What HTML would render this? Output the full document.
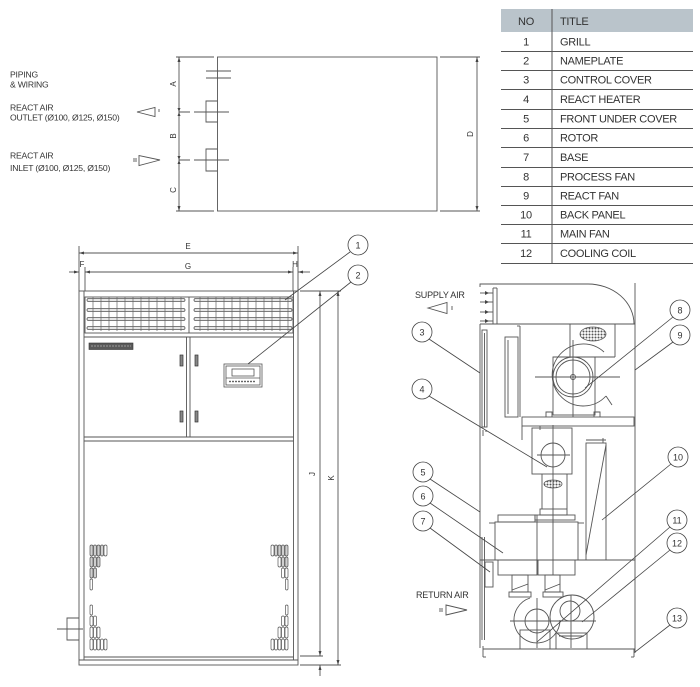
<!DOCTYPE html>
<html><head><meta charset="utf-8"><style>
html,body{margin:0;padding:0;background:#fff;}
svg{display:block;}
text{font-family:"Liberation Sans",sans-serif;fill:#333;}
</style></head><body>
<svg width="700" height="687" viewBox="0 0 700 687" xmlns="http://www.w3.org/2000/svg">
<defs>
<pattern id="dots" width="3" height="3" patternUnits="userSpaceOnUse"><circle cx="1.5" cy="1.5" r="1" fill="#555"/></pattern>
</defs>

<!-- ============ TABLE ============ -->
<rect x="501" y="9" width="192" height="23" fill="#bac4cb"/>
<g stroke="#555" stroke-width="1">
<line x1="552" y1="9" x2="552" y2="264"/>
<line x1="501" y1="51.5" x2="693" y2="51.5"/>
<line x1="501" y1="70.5" x2="693" y2="70.5"/>
<line x1="501" y1="89.5" x2="693" y2="89.5"/>
<line x1="501" y1="109.5" x2="693" y2="109.5"/>
<line x1="501" y1="128.5" x2="693" y2="128.5"/>
<line x1="501" y1="147.5" x2="693" y2="147.5"/>
<line x1="501" y1="167.5" x2="693" y2="167.5"/>
<line x1="501" y1="186.5" x2="693" y2="186.5"/>
<line x1="501" y1="205.5" x2="693" y2="205.5"/>
<line x1="501" y1="224.5" x2="693" y2="224.5"/>
<line x1="501" y1="243.5" x2="693" y2="243.5"/>
<line x1="501" y1="263.5" x2="693" y2="263.5"/>
</g>
<g font-size="11" letter-spacing="-0.3" fill="#222">
<text x="526" y="25" text-anchor="middle">NO</text>
<text x="560" y="25">TITLE</text>
<g text-anchor="middle">
<text x="526" y="45.5">1</text><text x="526" y="64.5">2</text><text x="526" y="83.5">3</text>
<text x="526" y="103">4</text><text x="526" y="122.5">5</text><text x="526" y="141.5">6</text>
<text x="526" y="161">7</text><text x="526" y="180.5">8</text><text x="526" y="199.5">9</text>
<text x="526" y="218.5">10</text><text x="526" y="237.5">11</text><text x="526" y="257">12</text>
</g>
<text x="560" y="45.5">GRILL</text>
<text x="560" y="64.5">NAMEPLATE</text>
<text x="560" y="83.5">CONTROL COVER</text>
<text x="560" y="103">REACT HEATER</text>
<text x="560" y="122.5">FRONT UNDER COVER</text>
<text x="560" y="141.5">ROTOR</text>
<text x="560" y="161">BASE</text>
<text x="560" y="180.5">PROCESS FAN</text>
<text x="560" y="199.5">REACT FAN</text>
<text x="560" y="218.5">BACK PANEL</text>
<text x="560" y="237.5">MAIN FAN</text>
<text x="560" y="257">COOLING COIL</text>
</g>

<!-- ============ TOP VIEW ============ -->
<g font-size="8.6" fill="#444" letter-spacing="-0.2">
<text x="10" y="77.5">PIPING</text>
<text x="10" y="87.5">&amp; WIRING</text>
<text x="10" y="110.5">REACT AIR</text>
<text x="10" y="120.5">OUTLET (Ø100, Ø125, Ø150)</text>
<text x="10" y="158.5">REACT AIR</text>
<text x="10" y="171">INLET (Ø100, Ø125, Ø150)</text>
</g>
<g stroke="#555" stroke-width="0.9" fill="none">
<polygon points="137,112 155,107.5 155,116.5"/>
<line x1="159" y1="109" x2="159" y2="112"/>
<polygon points="160,160 139,155.5 139,165.5"/>
<line x1="134" y1="158" x2="134" y2="162"/><line x1="136" y1="158" x2="136" y2="162"/>

<rect x="217.5" y="57" width="219.5" height="154"/>
<line x1="176" y1="57" x2="214" y2="57"/>
<line x1="176" y1="211" x2="214" y2="211"/>
<line x1="179" y1="57" x2="179" y2="211"/>
<line x1="440" y1="57" x2="480" y2="57"/>
<line x1="440" y1="211" x2="480" y2="211"/>
<line x1="477" y1="57" x2="477" y2="211"/>
<!-- piping -->
<line x1="206" y1="71" x2="231" y2="71"/>
<line x1="206" y1="78" x2="231" y2="78"/>
<!-- outlet -->
<polyline points="217.5,101 206,101 206,122 217.5,122"/>
<line x1="179" y1="112" x2="229" y2="112" stroke-dasharray="11,4,40"/>
<polyline points="217.5,149 206,149 206,171 217.5,171"/>
<line x1="179" y1="160" x2="229" y2="160" stroke-dasharray="11,4,40"/>
</g>
<g fill="#444">
<polygon points="179,57 177.5,62 180.5,62"/>
<polygon points="179,211 177.5,206 180.5,206"/>
<polygon points="179,112 177.5,108 180.5,108"/><polygon points="179,112 177.5,116 180.5,116"/>
<polygon points="179,160 177.5,156 180.5,156"/><polygon points="179,160 177.5,164 180.5,164"/>
<polygon points="477,57 475.5,62 478.5,62"/>
<polygon points="477,211 475.5,206 478.5,206"/>
</g>
<g font-size="8" fill="#555">
<text transform="translate(176,84) rotate(-90)" text-anchor="middle">A</text>
<text transform="translate(176,136) rotate(-90)" text-anchor="middle">B</text>
<text transform="translate(176,190) rotate(-90)" text-anchor="middle">C</text>
<text transform="translate(473,134) rotate(-90)" text-anchor="middle">D</text>
</g>

<!-- ============ FRONT VIEW ============ -->
<g stroke="#555" stroke-width="0.9" fill="none">
<!-- dims -->
<line x1="79" y1="246" x2="79" y2="291"/>
<line x1="298" y1="246" x2="298" y2="291"/>
<line x1="85" y1="267" x2="85" y2="291"/>
<line x1="293" y1="267" x2="293" y2="291"/>
<line x1="79" y1="253" x2="298" y2="253"/>
<line x1="85" y1="272" x2="293" y2="272"/>
<line x1="69" y1="272" x2="79" y2="272"/>
<line x1="298" y1="272" x2="310" y2="272"/>
<!-- J K -->
<line x1="300" y1="291" x2="341" y2="291"/>
<line x1="300" y1="656" x2="323" y2="656"/>
<line x1="300" y1="665" x2="341" y2="665"/>
<line x1="320" y1="291" x2="320" y2="656"/>
<line x1="338" y1="291" x2="338" y2="665"/>
<line x1="320" y1="665" x2="320" y2="676"/>

<!-- frame -->
<rect x="79" y="291" width="219" height="374"/>
<line x1="84" y1="291" x2="84" y2="660"/>
<line x1="293.5" y1="291" x2="293.5" y2="660"/>
<!-- grille -->
<rect x="85" y="297" width="208" height="36"/>
<line x1="189" y1="297" x2="189" y2="333"/>
<line x1="84" y1="337" x2="293.5" y2="337"/>
<!-- doors -->
<line x1="186.5" y1="337" x2="186.5" y2="437"/>
<line x1="190" y1="337" x2="190" y2="437"/>
<line x1="84" y1="437" x2="293.5" y2="437"/>
<line x1="84" y1="441" x2="293.5" y2="441"/>
<line x1="84" y1="657" x2="293.5" y2="657"/>
<line x1="79" y1="660" x2="298" y2="660"/>
<!-- piping box -->
<polyline points="79,618 67,618 67,640 79,640"/>
<line x1="57" y1="629" x2="83" y2="629"/>
</g>
<g fill="#444">
<polygon points="79,253 84,251.5 84,254.5"/><polygon points="298,253 293,251.5 293,254.5"/>
<polygon points="85,272 90,270.5 90,273.5"/><polygon points="293,272 288,270.5 288,273.5"/>
<polygon points="79,272 74,270.5 74,273.5"/><polygon points="298,272 303,270.5 303,273.5"/>
<polygon points="320,291 318.5,296 321.5,296"/><polygon points="320,656 318.5,651 321.5,651"/>
<polygon points="338,291 336.5,296 339.5,296"/><polygon points="338,665 336.5,660 339.5,660"/>
<polygon points="320,665 318.5,670 321.5,670"/>
</g>
<g font-size="8" fill="#555" text-anchor="middle">
<text x="188" y="249">E</text>
<text x="188" y="269">G</text>
<text x="82" y="267">F</text>
<text x="295" y="267">H</text>
<text transform="translate(315,474) rotate(-90)">J</text>
<text transform="translate(334,478) rotate(-90)">K</text>
</g>

<!-- grille bars -->
<g stroke="#555" stroke-width="0.8" fill="#e6e6e6">
<rect x="87" y="298.5" width="98" height="3" rx="1.5"/>
<rect x="87" y="308.5" width="98" height="3" rx="1.5"/>
<rect x="87" y="317.5" width="98" height="3" rx="1.5"/>
<rect x="87" y="326.5" width="98" height="3" rx="1.5"/>
<rect x="194" y="298.5" width="98" height="3" rx="1.5"/>
<rect x="194" y="308.5" width="98" height="3" rx="1.5"/>
<rect x="194" y="317.5" width="98" height="3" rx="1.5"/>
<rect x="194" y="326.5" width="98" height="3" rx="1.5"/>
</g>
<g stroke="#666" stroke-width="0.7">
<line x1="93" y1="297" x2="93" y2="331"/><line x1="101" y1="297" x2="101" y2="331"/>
<line x1="109" y1="297" x2="109" y2="331"/><line x1="117" y1="297" x2="117" y2="331"/>
<line x1="125" y1="297" x2="125" y2="331"/><line x1="133" y1="297" x2="133" y2="331"/>
<line x1="141" y1="297" x2="141" y2="331"/><line x1="149" y1="297" x2="149" y2="331"/>
<line x1="157" y1="297" x2="157" y2="331"/><line x1="165" y1="297" x2="165" y2="331"/>
<line x1="173" y1="297" x2="173" y2="331"/><line x1="181" y1="297" x2="181" y2="331"/>
<line x1="200" y1="297" x2="200" y2="331"/><line x1="208" y1="297" x2="208" y2="331"/>
<line x1="216" y1="297" x2="216" y2="331"/><line x1="224" y1="297" x2="224" y2="331"/>
<line x1="232" y1="297" x2="232" y2="331"/><line x1="240" y1="297" x2="240" y2="331"/>
<line x1="248" y1="297" x2="248" y2="331"/><line x1="256" y1="297" x2="256" y2="331"/>
<line x1="264" y1="297" x2="264" y2="331"/><line x1="272" y1="297" x2="272" y2="331"/>
<line x1="280" y1="297" x2="280" y2="331"/><line x1="288" y1="297" x2="288" y2="331"/>
</g>

<!-- nameplate -->
<rect x="89" y="343" width="44" height="6.5" fill="#5a5a5a" stroke="#333" stroke-width="0.6"/>
<g stroke="#ddd" stroke-width="0.6">
<line x1="91" y1="346" x2="131" y2="346" stroke-dasharray="2,1"/>
</g>
<!-- handles -->
<g fill="#888" stroke="#333" stroke-width="0.7">
<rect x="180" y="355" width="3" height="11"/>
<rect x="195" y="355" width="3" height="11"/>
<rect x="180" y="411" width="3" height="11"/>
<rect x="195" y="411" width="3" height="11"/>
</g>
<!-- controller -->
<g stroke="#555" stroke-width="0.8" fill="none">
<rect x="224" y="364" width="38" height="23"/>
<rect x="226" y="366" width="34" height="19"/>
<rect x="232" y="369" width="22" height="7"/>
<line x1="226" y1="378" x2="260" y2="378"/>
</g>
<g fill="#444">
<circle cx="230" cy="381.5" r="0.9"/><circle cx="233" cy="381.5" r="0.9"/><circle cx="236" cy="381.5" r="0.9"/>
<circle cx="239" cy="381.5" r="0.9"/><circle cx="242" cy="381.5" r="0.9"/><circle cx="245" cy="381.5" r="0.9"/>
<circle cx="248" cy="381.5" r="0.9"/><circle cx="251" cy="381.5" r="0.9"/><circle cx="254" cy="381.5" r="0.9"/>
</g>

<!-- vents -->
<g stroke="#555" stroke-width="0.7" fill="#cfcfcf">
<!-- left top -->
<rect x="90" y="545" width="3" height="11" rx="1.5"/><rect x="93.5" y="545" width="3" height="11" rx="1.5"/>
<rect x="97" y="545" width="3" height="11" rx="1.5"/><rect x="100.5" y="545" width="3" height="11" rx="1.5"/>
<rect x="104" y="545" width="3" height="11" rx="1.5" fill="#fff"/>
<rect x="90" y="557" width="3" height="10" rx="1.5"/><rect x="93.5" y="557" width="3" height="10" rx="1.5"/>
<rect x="97" y="557" width="3" height="10" rx="1.5"/>
<rect x="90" y="568" width="3" height="10" rx="1.5"/><rect x="93.5" y="568" width="3" height="10" rx="1.5"/>
<rect x="90" y="579" width="2.5" height="11" rx="1.2" fill="#fff"/>
<!-- left bottom -->
<g fill="#fff">
<rect x="90" y="605" width="2.5" height="10" rx="1.2"/>
<rect x="90" y="616" width="3" height="10" rx="1.5"/><rect x="93.5" y="616" width="3" height="10" rx="1.5"/>
<rect x="90" y="627" width="3" height="11" rx="1.5"/><rect x="93.5" y="627" width="3" height="11" rx="1.5"/><rect x="97" y="627" width="3" height="11" rx="1.5"/>
<rect x="90" y="639" width="3" height="11" rx="1.5"/><rect x="93.5" y="639" width="3" height="11" rx="1.5"/><rect x="97" y="639" width="3" height="11" rx="1.5"/>
<rect x="100.5" y="639" width="3" height="11" rx="1.5"/><rect x="104" y="639" width="3" height="11" rx="1.5"/>
</g>
<!-- right top -->
<rect x="285" y="545" width="3" height="11" rx="1.5"/><rect x="281.5" y="545" width="3" height="11" rx="1.5"/>
<rect x="278" y="545" width="3" height="11" rx="1.5"/><rect x="274.5" y="545" width="3" height="11" rx="1.5"/>
<rect x="271" y="545" width="3" height="11" rx="1.5" fill="#fff"/>
<rect x="285" y="557" width="3" height="10" rx="1.5"/><rect x="281.5" y="557" width="3" height="10" rx="1.5"/>
<rect x="278" y="557" width="3" height="10" rx="1.5" fill="#fff"/>
<rect x="285" y="568" width="3" height="10" rx="1.5" fill="#fff"/><rect x="281.5" y="568" width="3" height="10" rx="1.5" fill="#fff"/>
<rect x="285.5" y="579" width="2.5" height="11" rx="1.2" fill="#fff"/>
<!-- right bottom -->
<g fill="#fff">
<rect x="285.5" y="605" width="2.5" height="10" rx="1.2"/>
<rect x="285" y="616" width="3" height="10" rx="1.5"/><rect x="281.5" y="616" width="3" height="10" rx="1.5"/>
<rect x="285" y="627" width="3" height="11" rx="1.5"/><rect x="281.5" y="627" width="3" height="11" rx="1.5"/><rect x="278" y="627" width="3" height="11" rx="1.5"/>
<rect x="285" y="639" width="3" height="11" rx="1.5"/><rect x="281.5" y="639" width="3" height="11" rx="1.5"/><rect x="278" y="639" width="3" height="11" rx="1.5"/>
<rect x="274.5" y="639" width="3" height="11" rx="1.5"/><rect x="271" y="639" width="3" height="11" rx="1.5"/>
</g>
</g>

<!-- callouts 1,2 -->
<g stroke="#444" stroke-width="0.8" fill="none">
<circle cx="358" cy="245" r="10"/>
<circle cx="358" cy="275" r="10"/>
<line x1="350" y1="252" x2="285" y2="300"/>
<line x1="351" y1="282" x2="248" y2="364"/>
</g>
<g font-size="9" text-anchor="middle" fill="#333">
<text x="358" y="248.5">1</text>
<text x="358" y="278.5">2</text>
</g>

<!-- ============ SIDE VIEW ============ -->
<g font-size="9" fill="#444" letter-spacing="-0.2">
<text x="415" y="298">SUPPLY AIR</text>
<text x="416" y="598">RETURN AIR</text>
</g>
<g stroke="#555" stroke-width="0.9" fill="none">
<polygon points="428,308 447,302.5 447,313.5"/>
<line x1="452" y1="306" x2="452" y2="310"/>
<polygon points="467,610 446,605 446,615"/>
<line x1="440" y1="608" x2="440" y2="612"/><line x1="442" y1="608" x2="442" y2="612"/>

<!-- housing -->
<line x1="484" y1="284" x2="588" y2="284"/>
<path d="M588,284 A46,40 0 0 1 634,324"/>
<line x1="635" y1="283" x2="635" y2="653"/>
<polyline points="480,287 480,284 484,284"/>
<line x1="493" y1="288" x2="493" y2="324"/>
<line x1="497" y1="288" x2="497" y2="324"/>
<line x1="493" y1="288" x2="497" y2="288"/>
<line x1="480" y1="293" x2="493" y2="293"/>
<line x1="480" y1="302" x2="493" y2="302"/>
<line x1="480" y1="312" x2="493" y2="312"/>
<line x1="480" y1="321" x2="493" y2="321"/>
<line x1="480" y1="324" x2="635" y2="324"/>
<line x1="480" y1="324" x2="480" y2="648"/>
<!-- control cover -->
<rect x="482" y="330" width="5" height="97"/>
<line x1="484.5" y1="333" x2="484.5" y2="427"/>
<path d="M483,430 L483,436 M486,430 L486,432"/>

<!-- process fan -->
<line x1="520" y1="326" x2="520" y2="417"/>
<line x1="517" y1="326" x2="520" y2="326"/>
<rect x="505" y="337" width="13" height="80"/>
<line x1="508" y1="340" x2="508" y2="414"/>
<rect x="522" y="417" width="112" height="9"/>
<line x1="570" y1="324" x2="570" y2="357"/>
<line x1="615" y1="324" x2="615" y2="357"/>
<line x1="553" y1="357" x2="615" y2="357"/>
<rect x="553" y="357" width="42" height="58"/>
<path d="M604,352 A31,31 0 1 0 606,396"/>
<line x1="606" y1="396" x2="612" y2="405"/>
<circle cx="573" cy="377" r="20"/>
<circle cx="573" cy="377" r="17"/>
<circle cx="573" cy="377" r="2.5"/>
<line x1="535" y1="377" x2="620" y2="377"/>
<line x1="573" y1="340" x2="573" y2="417"/>
<path d="M546,417 L546,412 L552,412 L552,417 M594,417 L594,412 L600,412 L600,417"/>
<!-- under base -->
<line x1="522" y1="426" x2="522" y2="440"/>
<line x1="540" y1="426" x2="540" y2="430"/>

<!-- react heater -->
<rect x="532" y="428" width="40" height="46"/>
<circle cx="553" cy="455" r="12"/>
<line x1="553" y1="425" x2="553" y2="575"/>
<line x1="537" y1="455" x2="570" y2="455"/>
<line x1="542" y1="474" x2="542" y2="509"/>
<line x1="567" y1="474" x2="567" y2="509"/>
<rect x="540" y="509" width="27" height="6"/>
<rect x="535" y="515" width="40" height="5"/>

<!-- rotor -->
<rect x="498" y="515" width="37" height="7"/>
<rect x="495" y="522" width="83" height="38"/>
<line x1="489" y1="523" x2="495" y2="523"/>
<line x1="578" y1="523" x2="584" y2="523"/>
<line x1="537" y1="515" x2="537" y2="575"/>
<line x1="480" y1="560" x2="635" y2="560"/>
<rect x="498" y="560" width="39" height="15"/>
<rect x="538" y="560" width="37" height="15"/>
<rect x="512" y="575" width="16" height="17"/>
<rect x="509" y="592" width="22" height="5"/>
<line x1="512" y1="590" x2="528" y2="584"/>
<rect x="545" y="575" width="15" height="17"/>
<rect x="543" y="592" width="20" height="5"/>
<line x1="545" y1="590" x2="560" y2="584"/>

<!-- main fans -->
<path d="M530,598 A23,23 0 1 0 560,620"/>
<circle cx="537" cy="621" r="12"/>
<circle cx="572" cy="617" r="22"/>
<circle cx="570" cy="611" r="10"/>
<line x1="510" y1="621" x2="596" y2="621"/>
<line x1="537" y1="598" x2="537" y2="648"/>
<line x1="571" y1="595" x2="571" y2="648"/>
<rect x="520" y="630" width="30" height="19"/>
<rect x="556" y="633" width="31" height="16"/>
<line x1="559" y1="636" x2="584" y2="636"/>

<!-- base -->
<line x1="483" y1="649" x2="635" y2="649"/>
<line x1="483" y1="646" x2="483" y2="657"/>
<line x1="634" y1="649" x2="634" y2="657"/>
<line x1="483" y1="657" x2="486" y2="657"/>
<line x1="631" y1="657" x2="634" y2="657"/>

<!-- back panel -->
<rect x="586" y="443" width="20" height="117"/>
<line x1="606" y1="445" x2="586" y2="555"/>
<line x1="586" y1="440" x2="606" y2="440"/>
<line x1="603" y1="438" x2="603" y2="443"/>

<!-- front under cover / base -->
<line x1="482" y1="537" x2="482" y2="640"/>
<line x1="484.5" y1="537" x2="484.5" y2="640"/>
<rect x="485" y="562" width="8" height="25"/>
</g>
<!-- hatched ovals -->
<ellipse cx="593" cy="334" rx="13" ry="7" fill="url(#dots)" stroke="#555" stroke-width="0.8"/>
<ellipse cx="553" cy="484" rx="9" ry="4" fill="url(#dots)" stroke="#555" stroke-width="0.8"/>
<!-- supply arrow heads -->
<g fill="#444">
<polygon points="489,293 485,291 485,295"/><polygon points="489,302 485,300 485,304"/>
<polygon points="489,312 485,310 485,314"/><polygon points="489,321 485,319 485,323"/>
</g>

<!-- side callouts -->
<g stroke="#444" stroke-width="0.8" fill="none">
<circle cx="422" cy="332" r="10"/>
<circle cx="422" cy="389" r="10"/>
<circle cx="680" cy="310" r="10"/>
<circle cx="680" cy="335" r="10"/>
<circle cx="678" cy="457" r="10"/>
<circle cx="423" cy="472" r="10"/>
<circle cx="423" cy="496" r="10"/>
<circle cx="423" cy="521" r="10"/>
<circle cx="677" cy="520" r="10"/>
<circle cx="677" cy="543" r="10"/>
<circle cx="677" cy="618" r="10"/>
<line x1="429" y1="339" x2="480" y2="373"/>
<line x1="429" y1="396" x2="547" y2="467"/>
<line x1="673" y1="317" x2="585" y2="388"/>
<line x1="673" y1="342" x2="635" y2="370"/>
<line x1="671" y1="464" x2="602" y2="520"/>
<line x1="430" y1="479" x2="480" y2="512"/>
<line x1="430" y1="503" x2="503" y2="553"/>
<line x1="430" y1="528" x2="490" y2="572"/>
<line x1="670" y1="527" x2="537" y2="642"/>
<line x1="670" y1="550" x2="582" y2="622"/>
<line x1="670" y1="625" x2="635" y2="652"/>
</g>
<g font-size="9" text-anchor="middle" fill="#333">
<text x="422" y="335.5">3</text>
<text x="422" y="392.5">4</text>
<text x="680" y="313.5">8</text>
<text x="680" y="338.5">9</text>
<text x="678" y="460.5">10</text>
<text x="423" y="475.5">5</text>
<text x="423" y="499.5">6</text>
<text x="423" y="524.5">7</text>
<text x="677" y="523.5">11</text>
<text x="677" y="546.5">12</text>
<text x="677" y="621.5">13</text>
</g>
</svg>
</body></html>
